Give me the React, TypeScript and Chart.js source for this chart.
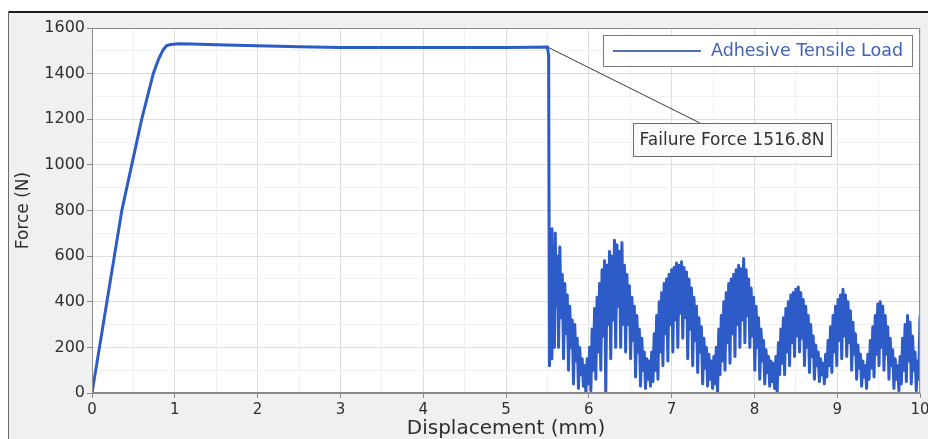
import React, { useEffect, useRef } from 'react';
import { Chart, registerables } from 'chart.js';

Chart.register(...registerables);

const seriesLabel = 'Adhesive Tensile Load';
const xTitle = 'Displacement (mm)';
const yTitle = 'Force (N)';
const annotationText = 'Failure Force 1516.8N';
const failurePoint = [5.5, 1516.8];
const connectorEnd = [7.34, 1184];
const annotationCenter = [7.73, 1184];

const displacement = [
  0, 0.09, 0.18, 0.27, 0.36, 0.42, 0.48, 0.54, 0.6, 0.67, 0.74, 0.8, 0.86, 0.9, 0.95, 1.05, 1.2, 1.5, 2.0, 2.5, 3.0, 3.5, 4.0, 4.5, 5.0, 5.3, 5.5,
  5.515, 5.525, 5.535, 5.545, 5.555, 5.565, 5.575, 5.585, 5.595, 5.605, 5.62, 5.635, 5.65, 5.665, 5.68, 5.695, 5.71, 5.725, 5.74, 5.755, 5.77, 5.785, 5.8, 5.815, 5.83, 5.845, 5.86, 5.875, 5.89, 5.905, 5.92, 5.935, 5.95, 5.965, 5.98, 5.995,
  6.01, 6.025, 6.04, 6.055, 6.07, 6.085, 6.1, 6.115, 6.13, 6.145, 6.16, 6.175, 6.19, 6.205, 6.22, 6.235, 6.25, 6.265, 6.28, 6.295, 6.31, 6.325, 6.34, 6.355, 6.37, 6.385, 6.4, 6.415, 6.43, 6.445, 6.46, 6.475, 6.49, 6.505, 6.52, 6.535, 6.55, 6.565, 6.58, 6.595, 6.61, 6.625, 6.64, 6.655, 6.67, 6.685, 6.7, 6.715, 6.73, 6.745, 6.76, 6.775, 6.79, 6.805, 6.82, 6.835, 6.85, 6.865, 6.88, 6.895, 6.91, 6.925, 6.94, 6.955, 6.97, 6.985,
  7.0, 7.015, 7.03, 7.045, 7.06, 7.075, 7.09, 7.105, 7.12, 7.135, 7.15, 7.165, 7.18, 7.195, 7.21, 7.225, 7.24, 7.255, 7.27, 7.285, 7.3, 7.315, 7.33, 7.345, 7.36, 7.375, 7.39, 7.405, 7.42, 7.435, 7.45, 7.465, 7.48, 7.495, 7.51, 7.525, 7.54, 7.555, 7.57, 7.585, 7.6, 7.615, 7.63, 7.645, 7.66, 7.675, 7.69, 7.705, 7.72, 7.735, 7.75, 7.765, 7.78, 7.795, 7.81, 7.825, 7.84, 7.855, 7.87, 7.885, 7.9, 7.915, 7.93, 7.945, 7.96, 7.975, 7.99,
  8.005, 8.02, 8.035, 8.05, 8.065, 8.08, 8.095, 8.11, 8.125, 8.14, 8.155, 8.17, 8.185, 8.2, 8.215, 8.23, 8.245, 8.26, 8.275, 8.29, 8.305, 8.32, 8.335, 8.35, 8.365, 8.38, 8.395, 8.41, 8.425, 8.44, 8.455, 8.47, 8.485, 8.5, 8.515, 8.53, 8.545, 8.56, 8.575, 8.59, 8.605, 8.62, 8.635, 8.65, 8.665, 8.68, 8.695, 8.71, 8.725, 8.74, 8.755, 8.77, 8.785, 8.8, 8.815, 8.83, 8.845, 8.86, 8.875, 8.89, 8.905, 8.92, 8.935, 8.95, 8.965, 8.98, 8.995,
  9.01, 9.025, 9.04, 9.055, 9.07, 9.085, 9.1, 9.115, 9.13, 9.145, 9.16, 9.175, 9.19, 9.205, 9.22, 9.235, 9.25, 9.265, 9.28, 9.295, 9.31, 9.325, 9.34, 9.355, 9.37, 9.385, 9.4, 9.415, 9.43, 9.445, 9.46, 9.475, 9.49, 9.505, 9.52, 9.535, 9.55, 9.565, 9.58, 9.595, 9.61, 9.625, 9.64, 9.655, 9.67, 9.685, 9.7, 9.715, 9.73, 9.745, 9.76, 9.775, 9.79, 9.805, 9.82, 9.835, 9.85, 9.865, 9.88, 9.895, 9.91, 9.925, 9.94, 9.955, 9.97, 9.985, 10.0,
];

const force = [
  0, 200, 400, 600, 800, 900, 1000, 1100, 1200, 1300, 1400, 1460, 1505, 1522, 1528, 1531, 1530, 1527, 1522, 1518, 1514, 1514, 1514, 1514, 1515, 1516, 1516.8,
  1480, 120, 560, 150, 720, 300, 640, 200, 700, 380, 600, 200, 640, 330, 520, 150, 480, 260, 430, 100, 380, 200, 320, 40, 300, 140, 240, 20, 200, 80, 150, 30, 120, 0, 150, 40,
  200, 10, 280, 100, 370, 60, 420, 180, 480, 100, 540, 250, 580, 0, 560, 300, 620, 150, 600, 320, 670, 200, 650, 380, 620, 200, 660, 300, 560, 180, 520, 300, 470, 150, 420, 230, 380, 70, 340, 180, 280, 30, 240, 100, 180, 20, 150, 60, 140, 30, 180, 50, 260, 100, 340, 60, 400, 180, 440, 120, 480, 260, 500, 140, 520, 300,
  540, 180, 550, 320, 570, 200, 560, 350, 575, 240, 550, 330, 530, 150, 500, 280, 460, 120, 420, 230, 380, 90, 330, 180, 290, 40, 240, 110, 200, 30, 170, 60, 140, 20, 160, 40, 200, 0, 280, 80, 340, 140, 400, 100, 440, 220, 480, 130, 500, 260, 520, 160, 540, 300, 560, 200, 545, 320, 590, 220, 540, 340, 500, 200, 460, 250, 420,
  100, 380, 200, 330, 60, 280, 140, 230, 40, 190, 90, 160, 30, 140, 50, 130, 20, 160, 0, 220, 80, 280, 130, 330, 80, 370, 180, 400, 120, 430, 220, 440, 160, 455, 250, 465, 180, 440, 240, 410, 120, 380, 200, 340, 90, 300, 160, 250, 60, 210, 120, 180, 50, 150, 80, 130, 40, 170, 70, 230, 120, 290, 90, 340, 180, 380, 120,
  410, 230, 430, 150, 455, 250, 430, 160, 400, 220, 360, 100, 310, 170, 260, 60, 210, 110, 170, 30, 140, 70, 120, 20, 170, 60, 230, 110, 290, 70, 340, 170, 390, 120, 400, 200, 380, 100, 340, 170, 290, 60, 240, 120, 190, 20, 150, 60, 120, 10, 160, 40, 240, 100, 300, 50, 340, 140, 310, 40, 250, 100, 180, 10, 140, 60, 340,
];

const FONT = "'DejaVu Sans', 'Open Sans', sans-serif";
const LINE_COLOR = '#2d5bc8';
const TEXT_COLOR = '#2e2e2e';

const framePlugin = {
  id: 'frame',
  beforeDraw(chart: any) {
    const { ctx, width, height, chartArea } = chart;
    ctx.save();
    ctx.fillStyle = '#ffffff';
    ctx.fillRect(0, 0, width, height);
    ctx.fillStyle = '#f0f0f0';
    ctx.fillRect(8, 12, width - 8, height - 12);
    ctx.fillStyle = '#1e1e1e';
    ctx.fillRect(8, 11, width - 8, 2);
    ctx.fillStyle = '#6a6a6a';
    ctx.fillRect(8, 11, 1, height - 11);
    ctx.fillStyle = '#ffffff';
    ctx.fillRect(chartArea.left, chartArea.top, chartArea.right - chartArea.left, chartArea.bottom - chartArea.top);
    ctx.restore();
  },
  afterDatasetsDraw(chart: any) {
    const { ctx, chartArea, scales } = chart;
    const xs = scales.x;
    const ys = scales.y;
    ctx.save();
    // plot border
    ctx.strokeStyle = '#8a8a8a';
    ctx.lineWidth = 1;
    ctx.strokeRect(chartArea.left + 0.5, chartArea.top + 0.5, chartArea.right - chartArea.left - 1, chartArea.bottom - chartArea.top - 1);

    // annotation
    ctx.font = `17px ${FONT}`;
    const tw = ctx.measureText(annotationText).width;
    const cx = xs.getPixelForValue(connectorEnd[0]);
    const cy = ys.getPixelForValue(connectorEnd[1]);
    const ax = xs.getPixelForValue(annotationCenter[0]);
    const ay = ys.getPixelForValue(annotationCenter[1]);
    const fx = xs.getPixelForValue(failurePoint[0]);
    const fy = ys.getPixelForValue(failurePoint[1]);
    ctx.strokeStyle = '#3c3c3c';
    ctx.beginPath();
    ctx.moveTo(fx, fy);
    ctx.lineTo(cx, cy);
    ctx.stroke();
    const bw = tw + 13;
    const bh = 33;
    const bx = Math.round(ax - bw / 2) + 0.5;
    const by = Math.round(ay) + 0.5;
    ctx.fillStyle = '#fbfbfb';
    ctx.fillRect(bx, by, bw, bh);
    ctx.strokeStyle = '#6a6a6a';
    ctx.strokeRect(bx, by, bw, bh);
    ctx.fillStyle = '#333333';
    ctx.textBaseline = 'middle';
    ctx.textAlign = 'center';
    ctx.fillText(annotationText, ax, by + bh / 2 + 1);

    // legend
    ctx.font = `17.5px ${FONT}`;
    const lw = ctx.measureText(seriesLabel).width;
    const lbRight = chartArea.right - 8;
    const lbLeft = lbRight - (lw + 117);
    const lbTop = chartArea.top + 7;
    const lbH = 31;
    ctx.fillStyle = '#ffffff';
    ctx.fillRect(lbLeft + 0.5, lbTop + 0.5, lbRight - lbLeft, lbH);
    ctx.strokeStyle = '#7a7a7a';
    ctx.strokeRect(lbLeft + 0.5, lbTop + 0.5, lbRight - lbLeft, lbH);
    ctx.strokeStyle = '#4f6fb8';
    ctx.lineWidth = 2;
    ctx.beginPath();
    ctx.moveTo(lbLeft + 10, lbTop + lbH / 2 + 0.5);
    ctx.lineTo(lbLeft + 98, lbTop + lbH / 2 + 0.5);
    ctx.stroke();
    ctx.fillStyle = '#3f63b8';
    ctx.textAlign = 'left';
    ctx.textBaseline = 'middle';
    ctx.fillText(seriesLabel, lbLeft + 108, lbTop + lbH / 2 + 1);
    ctx.restore();
  },
};

export default function App() {
  const canvasRef = useRef<HTMLCanvasElement | null>(null);

  useEffect(() => {
    if (!canvasRef.current) return;
    const points = displacement.map((d, i) => ({ x: d, y: force[i] }));
    const chart = new Chart(canvasRef.current, {
      type: 'line',
      data: {
        datasets: [
          {
            label: seriesLabel,
            data: points,
            borderColor: LINE_COLOR,
            backgroundColor: LINE_COLOR,
            borderWidth: 3,
            borderJoinStyle: 'round',
            pointRadius: 0,
            tension: 0,
            fill: false,
          },
        ],
      },
      options: {
        responsive: false,
        animation: false,
        layout: { padding: { top: 28, right: 8, left: 0, bottom: 0 } },
        plugins: { legend: { display: false }, tooltip: { enabled: false } },
        scales: {
          x: {
            type: 'linear',
            min: 0,
            max: 10,
            afterFit(scale: any) {
              scale.height = 46;
              scale.paddingLeft = 0;
              scale.paddingRight = 0;
            },
            ticks: {
              stepSize: 0.5,
              autoSkip: false,
              maxRotation: 0,
              padding: 3,
              color: TEXT_COLOR,
              font: { family: FONT, size: 15 },
              callback: (v: any) => (Number(v) % 1 === 0 ? String(v) : ''),
            },
            grid: {
              color: (c: any) => (c.tick && c.tick.value % 1 === 0 ? '#dedede' : '#f0f0f0'),
              tickColor: (c: any) => (c.tick && c.tick.value % 1 === 0 ? '#8a8a8a' : 'rgba(0,0,0,0)'),
              tickLength: 5,
            },
            border: { display: true, color: '#8a8a8a' },
            title: {
              display: true,
              text: xTitle,
              color: TEXT_COLOR,
              font: { family: FONT, size: 20 },
              padding: { top: 0, bottom: -2 },
            },
          },
          y: {
            min: 0,
            max: 1600,
            afterFit(scale: any) {
              scale.width = 92;
            },
            ticks: {
              stepSize: 100,
              autoSkip: false,
              padding: 2,
              color: TEXT_COLOR,
              font: { family: FONT, size: 16 },
              callback: (v: any) => (Number(v) % 200 === 0 ? String(v) : ''),
            },
            grid: {
              color: (c: any) => (c.tick && c.tick.value % 200 === 0 ? '#dedede' : '#f0f0f0'),
              tickColor: (c: any) => (c.tick && c.tick.value % 200 === 0 ? '#8a8a8a' : 'rgba(0,0,0,0)'),
              tickLength: 5,
            },
            border: { display: true, color: '#8a8a8a' },
            title: {
              display: true,
              text: yTitle,
              color: TEXT_COLOR,
              font: { family: FONT, size: 17 },
              padding: { top: 13, bottom: 0 },
            },
          },
        },
      },
      plugins: [framePlugin],
    });
    return () => chart.destroy();
  }, []);

  return (
    <div style={{ position: 'absolute', left: 0, top: 0, width: 928, height: 439, overflow: 'hidden' }}>
      <canvas ref={canvasRef} width={928} height={439} style={{ display: 'block' }} />
    </div>
  );
}
